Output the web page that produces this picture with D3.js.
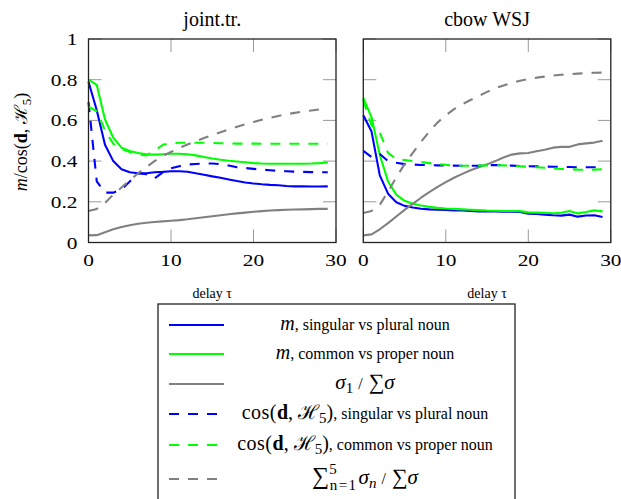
<!DOCTYPE html>
<html>
<head>
<meta charset="utf-8">
<script src="https://cdn.jsdelivr.net/npm/d3@7"></script>
<style>
  body { margin: 0; background: #fff; }
  svg { display: block; }
</style>
</head>
<body>
<div id="chart"></div>
<script>
// delay tau, 0..29
const delay = [0,1,2,3,4,5,6,7,8,9,10,11,12,13,14,15,16,17,18,19,20,21,22,23,24,25,26,27,28,29];

// joint.tr.
const jointMSingPlur = [0.79,0.65,0.48,0.40,0.36,0.345,0.34,0.34,0.345,0.347,0.35,0.35,0.348,0.34,0.333,0.325,0.318,0.31,0.302,0.295,0.29,0.286,0.283,0.281,0.278,0.276,0.276,0.275,0.275,0.276];
const jointMCommProp = [0.80,0.775,0.605,0.515,0.466,0.45,0.44,0.433,0.432,0.434,0.436,0.436,0.434,0.428,0.42,0.413,0.407,0.402,0.398,0.394,0.39,0.388,0.387,0.387,0.387,0.387,0.387,0.388,0.39,0.393];
const jointSigma1 = [0.035,0.036,0.05,0.065,0.076,0.085,0.092,0.097,0.101,0.104,0.107,0.11,0.114,0.119,0.124,0.129,0.134,0.139,0.143,0.147,0.151,0.154,0.157,0.159,0.161,0.162,0.163,0.164,0.165,0.165];
const jointCosSingPlur = [0.69,0.30,0.245,0.245,0.26,0.30,0.34,0.335,0.315,0.345,0.365,0.375,0.383,0.386,0.388,0.388,0.385,0.378,0.37,0.366,0.362,0.358,0.355,0.352,0.35,0.348,0.347,0.346,0.345,0.345];
const jointCosCommProp = [0.668,0.645,0.55,0.485,0.46,0.445,0.433,0.428,0.45,0.48,0.488,0.49,0.49,0.49,0.49,0.489,0.488,0.487,0.486,0.486,0.486,0.485,0.485,0.485,0.485,0.485,0.485,0.485,0.485,0.485];
const jointSigma5 = [0.155,0.165,0.195,0.235,0.27,0.305,0.34,0.37,0.40,0.425,0.445,0.465,0.482,0.498,0.513,0.528,0.542,0.556,0.569,0.581,0.592,0.603,0.613,0.622,0.63,0.637,0.644,0.649,0.654,0.658];

// cbow WSJ
const cbowMSingPlur = [0.625,0.545,0.33,0.24,0.198,0.18,0.172,0.166,0.163,0.161,0.16,0.158,0.157,0.155,0.153,0.152,0.152,0.151,0.151,0.15,0.142,0.14,0.137,0.134,0.132,0.137,0.127,0.133,0.134,0.125];
const cbowMCommProp = [0.71,0.615,0.43,0.30,0.235,0.205,0.19,0.182,0.175,0.17,0.167,0.165,0.163,0.161,0.159,0.157,0.156,0.155,0.155,0.154,0.148,0.147,0.146,0.144,0.146,0.155,0.143,0.15,0.158,0.153];
const cbowSigma1 = [0.035,0.04,0.065,0.095,0.128,0.16,0.19,0.22,0.247,0.273,0.297,0.318,0.337,0.355,0.37,0.384,0.40,0.418,0.432,0.438,0.44,0.448,0.456,0.466,0.47,0.47,0.482,0.487,0.491,0.50];
const cbowCosSingPlur = [0.45,0.42,0.435,0.40,0.392,0.385,0.383,0.381,0.38,0.379,0.378,0.378,0.377,0.377,0.378,0.38,0.381,0.38,0.378,0.376,0.375,0.374,0.373,0.372,0.372,0.371,0.37,0.37,0.37,0.37];
const cbowCosCommProp = [0.70,0.575,0.54,0.44,0.41,0.405,0.40,0.395,0.39,0.385,0.382,0.378,0.377,0.377,0.378,0.379,0.38,0.379,0.377,0.375,0.372,0.37,0.367,0.364,0.361,0.36,0.358,0.357,0.358,0.36];
const cbowSigma5 = [0.145,0.155,0.185,0.25,0.32,0.385,0.44,0.495,0.545,0.59,0.625,0.655,0.68,0.70,0.72,0.74,0.758,0.772,0.785,0.795,0.803,0.81,0.815,0.82,0.824,0.827,0.83,0.832,0.834,0.835];

const xTicks = [0, 10, 20, 30];
const yTicks = [0, 0.2, 0.4, 0.6, 0.8, 1];
const panelTitles = ["joint.tr.", "cbow WSJ"];
const xLabel = "delay \u03C4";

const blue = "#0000ff", green = "#00ff00", gray = "#808080";
const serif = "Liberation Serif";

const svg = d3.select("#chart")
  .append("svg")
    .attr("width", 621)
    .attr("height", 499)
    .attr("font-family", serif);

const plotTop = 39, plotBottom = 242.5, plotWidth = 247.5;

const panels = [
  { title: panelTitles[0], left: 88.5, yLabels: true,
    series: [jointMSingPlur, jointMCommProp, jointSigma1, jointCosSingPlur, jointCosCommProp, jointSigma5] },
  { title: panelTitles[1], left: 363.3, yLabels: false,
    series: [cbowMSingPlur, cbowMCommProp, cbowSigma1, cbowCosSingPlur, cbowCosCommProp, cbowSigma5] }
];

const styles = [
  { color: blue, dash: null },
  { color: green, dash: null },
  { color: gray, dash: null },
  { color: blue, dash: "10,9" },
  { color: green, dash: "10,9" },
  { color: gray, dash: "10,9" }
];

// tick labels are set a little wider than the body font, like the original
function tickText(g, x, y, anchor, label) {
  g.append("text")
    .attr("transform", `translate(${x},${y}) scale(1.22,1)`)
    .attr("text-anchor", anchor)
    .attr("font-size", 17.5)
    .text(label);
}

panels.forEach(p => {
  const x = d3.scaleLinear().domain([0, 30]).range([p.left, p.left + plotWidth]);
  const y = d3.scaleLinear().domain([0, 1]).range([plotBottom, plotTop]);
  const g = svg.append("g");

  // inner ticks on all four sides
  const tickLen = 13;
  xTicks.forEach(t => {
    g.append("line").attr("x1", x(t)).attr("x2", x(t))
      .attr("y1", plotBottom).attr("y2", plotBottom - tickLen)
      .attr("stroke", "#9a9a9a").attr("stroke-width", 1);
    g.append("line").attr("x1", x(t)).attr("x2", x(t))
      .attr("y1", plotTop).attr("y2", plotTop + tickLen)
      .attr("stroke", "#9a9a9a").attr("stroke-width", 1);
  });
  yTicks.forEach(t => {
    g.append("line").attr("x1", p.left).attr("x2", p.left + tickLen)
      .attr("y1", y(t)).attr("y2", y(t))
      .attr("stroke", "#9a9a9a").attr("stroke-width", 1);
    g.append("line").attr("x1", p.left + plotWidth).attr("x2", p.left + plotWidth - tickLen)
      .attr("y1", y(t)).attr("y2", y(t))
      .attr("stroke", "#9a9a9a").attr("stroke-width", 1);
  });

  const line = d3.line()
    .x((d, i) => x(delay[i]))
    .y(d => y(d));

  p.series.forEach((vals, i) => {
    g.append("path")
      .datum(vals)
      .attr("fill", "none")
      .attr("stroke", styles[i].color)
      .attr("stroke-width", 2.1)
      .attr("stroke-linejoin", "round")
      .attr("stroke-dasharray", styles[i].dash)
      .attr("d", line);
  });

  g.append("rect")
    .attr("x", p.left).attr("y", plotTop)
    .attr("width", plotWidth).attr("height", plotBottom - plotTop)
    .attr("fill", "none").attr("stroke", "#222").attr("stroke-width", 1.3);

  xTicks.forEach(t => tickText(g, x(t), 265.5, "middle", t));

  if (p.yLabels) {
    yTicks.forEach(t => tickText(g, 77.5, y(t) + 6, "end",
      t === 0 || t === 1 ? String(t) : t.toFixed(1)));
  }

  g.append("text")
    .attr("x", p.left + plotWidth / 2).attr("y", 26)
    .attr("text-anchor", "middle")
    .attr("font-size", 20)
    .text(p.title);

  g.append("text")
    .attr("x", p.left + plotWidth / 2).attr("y", 298)
    .attr("text-anchor", "middle")
    .attr("font-size", 14)
    .text(xLabel);
});

// rich text helper: parts = [text, {italic, bold, size, dy, dx, ls}]
function rich(sel, parts) {
  parts.forEach(([txt, o]) => {
    o = o || {};
    const ts = sel.append("tspan").text(txt);
    if (o.italic) ts.attr("font-style", "italic");
    if (o.bold) ts.attr("font-weight", "bold");
    if (o.size) ts.attr("font-size", o.size);
    if (o.dy) ts.attr("dy", o.dy);
    if (o.dx) ts.attr("dx", o.dx);
    if (o.ls) ts.attr("letter-spacing", o.ls);
  });
}

// y axis label
const yLab = svg.append("text")
  .attr("transform", "translate(27,142) rotate(-90)")
  .attr("text-anchor", "middle")
  .attr("font-size", 18);
rich(yLab, [
  ["m", { italic: true }], ["/cos(", {}], ["d", { bold: true }], [", \u210B", {}],
  ["5", { size: 13, dy: 4 }], [")", { dy: -4 }]
]);

// legend
const legendRows = [
  [["m", { italic: true, size: 20 }], [", singular vs plural noun", {}]],
  [["m", { italic: true, size: 20 }], [", common vs proper noun", {}]],
  [["\u03C3", { italic: true, size: 21 }], ["1", { size: 15, dy: 4 }], [" / ", { dy: -4, ls: 1 }], ["\u2211", { size: 22 }], ["\u03C3", { italic: true, size: 21 }]],
  [["cos(", { size: 20, ls: 0.5 }], ["d", { bold: true, size: 20 }], [", \u210B", { size: 20 }], ["5", { size: 15, dy: 4 }], [")", { size: 20, dy: -4 }], [", singular vs plural noun", {}]],
  [["cos(", { size: 20, ls: 0.5 }], ["d", { bold: true, size: 20 }], [", \u210B", { size: 20 }], ["5", { size: 15, dy: 4 }], [")", { size: 20, dy: -4 }], [", common vs proper noun", {}]],
  [["\u2211", { size: 24 }], ["5", { size: 15, dy: -10 }], ["n=1", { size: 15, dx: -7, dy: 16, ls: 1.5 }], ["\u03C3", { italic: true, size: 21, dy: -6, dx: 1 }], ["n", { italic: true, size: 15, dy: 4 }], [" / ", { dy: -4, ls: 1 }], ["\u2211", { size: 22 }], ["\u03C3", { italic: true, size: 21 }]]
];
const legendY = [325, 354, 384, 414, 445, 479];

const legend = svg.append("g");
legend.append("rect")
  .attr("x", 158).attr("y", 304)
  .attr("width", 357).attr("height", 210)
  .attr("fill", "#fff").attr("stroke", "#222").attr("stroke-width", 1.3);

legendRows.forEach((parts, i) => {
  legend.append("line")
    .attr("x1", 169).attr("x2", styles[i].dash ? 220 : 224)
    .attr("y1", legendY[i]).attr("y2", legendY[i])
    .attr("stroke", styles[i].color)
    .attr("stroke-width", 2.1)
    .attr("stroke-dasharray", styles[i].dash);
  const t = legend.append("text")
    .attr("x", 365).attr("y", legendY[i] + 5)
    .attr("text-anchor", "middle")
    .attr("font-size", 16);
  rich(t, parts);
});
</script>
</body>
</html>
